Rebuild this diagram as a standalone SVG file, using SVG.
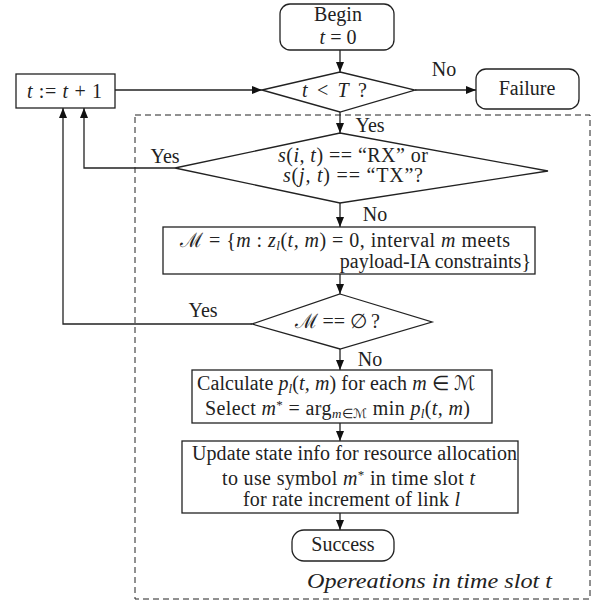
<svg xmlns="http://www.w3.org/2000/svg" width="598" height="610" viewBox="0 0 598 610">
<defs>
<marker id="ah" viewBox="0 0 10 8" refX="10" refY="4" markerWidth="10" markerHeight="8" markerUnits="userSpaceOnUse" orient="auto">
<path d="M0,0 L10,4 L0,8 Z" fill="#111"/>
</marker>
<style>
.n{fill:#fff;stroke:#222;stroke-width:1.3}
.c{fill:none;stroke:#222;stroke-width:1.3}
text{font-family:"Liberation Serif","Times New Roman",serif;font-size:20px;fill:#222}
.m{text-anchor:middle}
.e{text-anchor:end}
.i{font-style:italic}
.s{font-size:13px}
</style>
</defs>
<rect x="135" y="115" width="455" height="484" fill="none" stroke="#222" stroke-width="1" stroke-dasharray="6,4"/>
<g id="connectors">
<line class="c" x1="340" y1="50" x2="340" y2="72" marker-end="url(#ah)"/>
<line class="c" x1="415" y1="90" x2="476" y2="90" marker-end="url(#ah)"/>
<line class="c" x1="115" y1="90" x2="262" y2="90" marker-end="url(#ah)"/>
<line class="c" x1="340" y1="112" x2="340" y2="133" marker-end="url(#ah)"/>
<polyline class="c" points="175,168 84,168 84,108" marker-end="url(#ah)"/>
<line class="c" x1="340" y1="203" x2="340" y2="227" marker-end="url(#ah)"/>
<line class="c" x1="340" y1="274" x2="340" y2="294" marker-end="url(#ah)"/>
<polyline class="c" points="252,324 63,324 63,108" marker-end="url(#ah)"/>
<line class="c" x1="340" y1="349" x2="340" y2="370" marker-end="url(#ah)"/>
<line class="c" x1="340" y1="423" x2="340" y2="441" marker-end="url(#ah)"/>
<line class="c" x1="340" y1="513" x2="340" y2="530" marker-end="url(#ah)"/>
<text x="444" y="76" class="m">No</text>
<text x="370" y="132" class="m">Yes</text>
<text x="165" y="163" class="m">Yes</text>
<text x="375" y="221" class="m">No</text>
<text x="203" y="317" class="m">Yes</text>
<text x="370" y="366" class="m">No</text>
</g>
<g id="begin">
<rect class="n" x="280" y="4" width="114" height="46" rx="10"/>
<text x="338" y="21" class="m">Begin</text>
<text x="338" y="44" class="m"><tspan class="i">t</tspan> = 0</text>
</g>
<g id="check-t">
<polygon class="n" points="340,72 415,90 340,112 262,90"/>
<text x="302" y="97" textLength="65"><tspan class="i">t</tspan> &lt; <tspan class="i">T</tspan> ?</text>
</g>
<g id="failure">
<rect class="n" x="476" y="69" width="103" height="40" rx="10"/>
<text x="527" y="95" class="m">Failure</text>
</g>
<g id="increment">
<rect class="n" x="16" y="74" width="99" height="34"/>
<text x="27" y="98" textLength="75"><tspan class="i">t</tspan> := <tspan class="i">t</tspan> + 1</text>
</g>
<g id="check-state">
<polygon class="n" points="340,133 548,171 340,203 175,168"/>
<text x="278" y="162" textLength="150"><tspan class="i">s</tspan>(<tspan class="i">i, t</tspan>) == “RX” or</text>
<text x="283" y="182" textLength="140"><tspan class="i">s</tspan>(<tspan class="i">j, t</tspan>) == “TX”?</text>
</g>
<g id="set-m">
<rect class="n" x="163" y="227" width="372" height="47"/>
<text x="180" y="247" textLength="330">ℳ = {<tspan class="i">m</tspan> : <tspan class="i">z</tspan><tspan class="i s" dy="3">l</tspan><tspan dy="-3">(</tspan><tspan class="i">t, m</tspan>) = 0,  interval <tspan class="i">m</tspan> meets</text>
<text x="531" y="268" class="e">payload-IA constraints}</text>
</g>
<g id="check-empty">
<polygon class="n" points="340,294 432,322 340,349 252,324"/>
<text x="295" y="328" textLength="85">ℳ == ∅ ?</text>
</g>
<g id="calculate">
<rect class="n" x="192" y="370" width="300" height="53"/>
<text x="197" y="390" textLength="278">Calculate <tspan class="i">p</tspan><tspan class="i s" dy="3">l</tspan><tspan dy="-3">(</tspan><tspan class="i">t, m</tspan>) for each <tspan class="i">m</tspan> ∈ ℳ</text>
<text x="205" y="415" textLength="265">Select <tspan class="i">m</tspan><tspan class="s" dy="-6">*</tspan><tspan dy="6"> = arg</tspan><tspan class="s" dy="3"><tspan class="i">m</tspan>∈ℳ</tspan><tspan dy="-3"> min </tspan><tspan class="i">p</tspan><tspan class="i s" dy="3">l</tspan><tspan dy="-3">(</tspan><tspan class="i">t, m</tspan>)</text>
</g>
<g id="update">
<rect class="n" x="182" y="441" width="336" height="72"/>
<text x="192" y="460" textLength="325">Update state info for resource allocation</text>
<text x="222" y="485" textLength="253">to use symbol <tspan class="i">m</tspan><tspan class="s" dy="-6">*</tspan><tspan dy="6"> in time slot </tspan><tspan class="i">t</tspan></text>
<text x="243" y="506" textLength="217">for rate increment of link <tspan class="i">l</tspan></text>
</g>
<g id="success">
<rect class="n" x="292" y="530" width="102" height="31" rx="12"/>
<text x="343" y="551" class="m">Success</text>
</g>
<text x="307" y="588" class="i" font-size="22" textLength="245" lengthAdjust="spacingAndGlyphs">Opereations in time slot <tspan>t</tspan></text>
</svg>
